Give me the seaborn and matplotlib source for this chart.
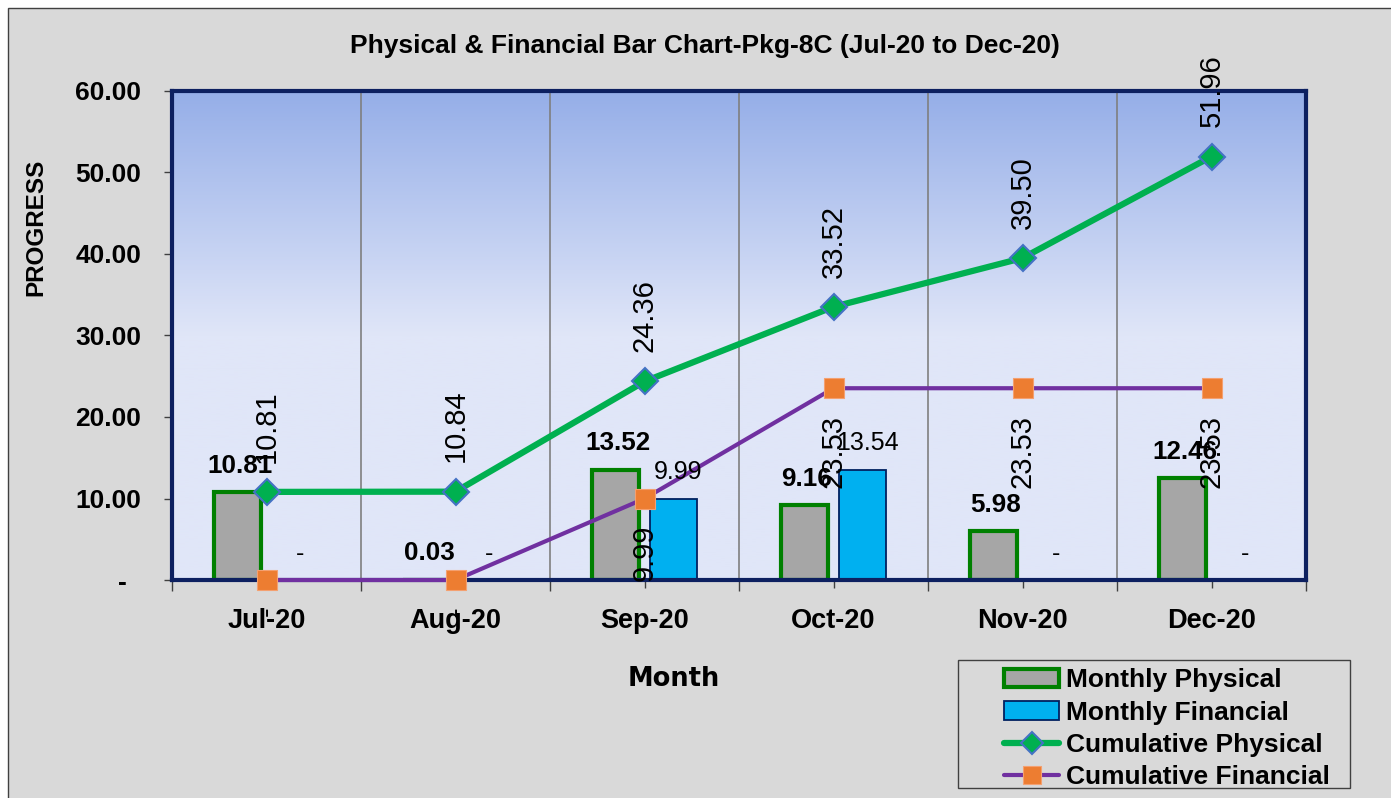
import numpy as np
import pandas as pd
import matplotlib
matplotlib.use("Agg")
import matplotlib.pyplot as plt
import seaborn as sns
from matplotlib.patches import Patch, Rectangle
from matplotlib.lines import Line2D
from matplotlib.colors import LinearSegmentedColormap

months = ["Jul-20", "Aug-20", "Sep-20", "Oct-20", "Nov-20", "Dec-20"]
monthly_physical = [10.81, 0.03, 13.52, 9.16, 5.98, 12.46]
monthly_financial = [0.0, 0.0, 9.99, 13.54, 0.0, 0.0]
cumulative_physical = [10.81, 10.84, 24.36, 33.52, 39.50, 51.96]
cumulative_financial = [0.0, 0.0, 9.99, 23.53, 23.53, 23.53]
y_ticks = [0, 10, 20, 30, 40, 50, 60]
y_tick_labels = ["-  ", "10.00", "20.00", "30.00", "40.00", "50.00", "60.00"]

sns.set_theme(style="white")
plt.rcParams["font.family"] = ["Liberation Sans", "DejaVu Sans"]
plt.rcParams["text.color"] = "black"
plt.rcParams["xtick.color"] = "black"
plt.rcParams["ytick.color"] = "black"
plt.rcParams["xtick.labelcolor"] = "black"
plt.rcParams["ytick.labelcolor"] = "black"

W, H = 1391, 798
fig = plt.figure(figsize=(W / 100, H / 100), dpi=100)
fig.patch.set_facecolor("white")
fig.patches.append(Rectangle((8 / W, -0.01), 1.0, 1 - 8 / H + 0.01, transform=fig.transFigure,
                             facecolor="#d9d9d9", edgecolor="#404040", lw=1.0, zorder=-10))

ax = fig.add_axes([172 / W, 1 - 580 / H, (1306 - 172) / W, (580 - 91) / H])
ax.set_facecolor("none")

# gradient background
cmap = LinearSegmentedColormap.from_list("bg", [(0, "#95aee8"), (0.5, "#e0e6f8"), (1, "#e0e6f8")])
grad = np.linspace(0, 1, 256).reshape(-1, 1)
ax.imshow(grad, cmap=cmap, aspect="auto", extent=[0, 1, 0, 1], transform=ax.transAxes, zorder=0)

df = pd.DataFrame({
    "Month": months * 2,
    "Value": monthly_physical + monthly_financial,
    "Series": ["Monthly Physical"] * 6 + ["Monthly Financial"] * 6,
})
sns.barplot(data=df, x="Month", y="Value", hue="Series", order=months,
            hue_order=["Monthly Physical", "Monthly Financial"], width=0.62, gap=0.2,
            ax=ax, legend=False, zorder=3)
styles = [("#a6a6a6", "#008000", 3.0), ("#00b0f0", "#002060", 1.3)]
for cont, (fc, ec, lw) in zip(ax.containers, styles):
    for bar in cont:
        bar.set_facecolor(fc)
        bar.set_edgecolor(ec)
        bar.set_linewidth(lw)
        bar.set_zorder(3)

xpos = np.arange(len(months))
ax.plot(xpos, cumulative_physical, color="#00b050", lw=4.5, marker="D", markersize=13,
        markerfacecolor="#00b050", markeredgecolor="#4472c4", markeredgewidth=1.5, zorder=7,
        clip_on=False)
ax.plot(xpos, cumulative_financial, color="#7030a0", lw=3.0, marker="s", markersize=15,
        markerfacecolor="#ed7d31", markeredgecolor="#f4a070", markeredgewidth=0.8, zorder=7,
        clip_on=False)

ax.set_xlim(-0.5, 5.5)
ax.set_ylim(0, 60)

# vertical gridlines at category boundaries
for b in np.arange(0.5, 5.5, 1.0):
    ax.axvline(b, color="#7f7f7f", lw=1.2, zorder=1)

for s in ax.spines.values():
    s.set_color("#0d2060")
    s.set_linewidth(3)
    s.set_zorder(6)

ax.set_yticks(y_ticks)
ax.set_yticklabels(y_tick_labels, fontsize=19, fontweight="bold")
ax.set_xticks(xpos)
ax.set_xticklabels(months, fontsize=19.5, fontweight="bold")
ax.set_xticks(np.arange(-0.5, 6.0, 1.0), minor=True)
ax.tick_params(axis="y", which="major", direction="out", length=6, width=1, color="#404040",
               left=True, pad=16)
ax.tick_params(axis="x", which="major", direction="out", length=6, width=1, color="#404040",
               bottom=True, pad=14)
ax.tick_params(axis="x", which="minor", direction="out", length=8, width=1, color="#404040",
               bottom=True)
ax.set_xlabel("")
ax.set_ylabel("")

def fmt(v):
    return "-" if v == 0 else f"{v:.2f}"

off = 0.155
for i, v in enumerate(monthly_physical):
    ax.annotate(fmt(v), xy=(i - off, v), xytext=(2, 19), textcoords="offset points",
                ha="center", va="center", fontsize=18.7, fontweight="bold", color="black", zorder=8)
for i, v in enumerate(monthly_financial):
    ax.annotate(fmt(v), xy=(i + off, v), xytext=(3, 19), textcoords="offset points",
                ha="center", va="center", fontsize=18, color="black", zorder=8)
for i, v in enumerate(cumulative_physical):
    ax.annotate(fmt(v), xy=(i, v), xytext=(0, 21), textcoords="offset points",
                ha="center", va="bottom", rotation=90, fontsize=21, color="black", zorder=8)
for i, v in enumerate(cumulative_financial):
    ax.annotate(fmt(v), xy=(i, v), xytext=(0, -19), textcoords="offset points",
                ha="center", va="top", rotation=90, fontsize=21, color="black", zorder=8,
                annotation_clip=False)

fig.text(705 / W, 1 - 46 / H, "Physical & Financial Bar Chart-Pkg-8C (Jul-20 to Dec-20)",
         ha="center", va="center", fontsize=19, fontweight="bold")
fig.text(36 / W, 1 - 227 / H, "PROGRESS", ha="center", va="center", rotation=90,
         fontsize=17.5, fontweight="bold")
fig.text(674 / W, 1 - 679 / H, "Month", ha="center", va="center", fontsize=18.5,
         fontweight="bold", family=["DejaVu Sans"])

# legend
fig.patches.append(Rectangle((958 / W, 1 - 788 / H), (1350 - 958) / W, (788 - 660) / H,
                             transform=fig.transFigure, facecolor="#d9d9d9",
                             edgecolor="#404040", lw=1.0, zorder=1))
handles = [
    Patch(facecolor="#a6a6a6", edgecolor="#008000", lw=3.0),
    Patch(facecolor="#00b0f0", edgecolor="#002060", lw=1.3),
    Line2D([0], [0], color="#00b050", lw=4.5, marker="D", markersize=11,
           markerfacecolor="#00b050", markeredgecolor="#4472c4", markeredgewidth=1.5),
    Line2D([0], [0], color="#7030a0", lw=3.0, marker="s", markersize=13,
           markerfacecolor="#ed7d31", markeredgecolor="#f4a070", markeredgewidth=0.8),
]
labels = ["Monthly Physical", "Monthly Financial", "Cumulative Physical", "Cumulative Financial"]
leg = fig.legend(handles, labels, loc="upper left", bbox_to_anchor=(986 / W, 1 - 650 / H),
                 frameon=False, prop={"size": 19, "weight": "bold"}, handlelength=2.05,
                 handletextpad=0.3, labelspacing=0.31, borderpad=0.2)
leg.set_zorder(3)

fig.savefig("out.png", dpi=100)
